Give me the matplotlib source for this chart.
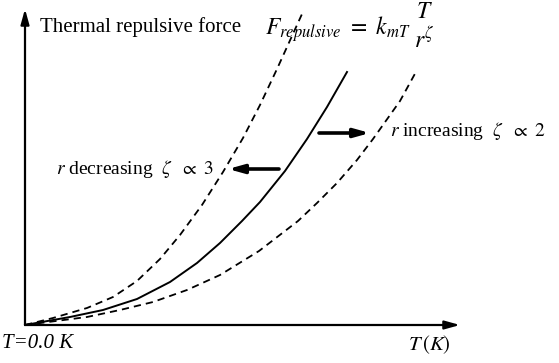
import numpy as np
import matplotlib
matplotlib.use("Agg")
import matplotlib.pyplot as plt

plt.rcParams['font.family'] = ['Liberation Serif', 'DejaVu Serif']
plt.rcParams['mathtext.fontset'] = 'stix'

# curvas esquematicas (T, F)
T_alto = [0, 28, 62, 88, 112, 135, 155, 177, 198, 218, 235, 252, 277]
F_alto = [0, 7, 17, 28, 44, 66, 90, 120, 153, 187, 220, 256, 311]

T_medio = [0, 45, 78, 112, 145, 172, 195, 217, 235, 260, 282, 302, 322]
F_medio = [0, 8, 15, 26, 43, 62, 82, 104, 123, 154, 186, 218, 253]

T_bajo = [0, 62, 95, 128, 162, 195, 234, 273, 292, 312, 332, 348, 375, 392]
F_bajo = [0, 8, 15, 23, 35, 50, 74, 104, 122, 142, 165, 186, 224, 255]

# flechas entre curvas: (inicio, fin)
flecha_izq = [(254, 156), (203, 156)]
flecha_der = [(294, 192), (345, 192)]

fig = plt.figure(figsize=(5.59, 3.63), dpi=100)
ax = fig.add_axes([0, 0, 1, 1])
ax.set_xlim(-25, 534)
ax.set_ylim(-38, 325)
ax.axis('off')

# ejes con flecha
ax.annotate('', xy=(0, 316), xytext=(0, 0),
            arrowprops=dict(arrowstyle='-|>,head_length=0.9,head_width=0.25',
                            color='black', lw=1.6, shrinkA=0, shrinkB=0))
ax.annotate('', xy=(435, 0), xytext=(0, 0),
            arrowprops=dict(arrowstyle='-|>,head_length=0.9,head_width=0.25',
                            color='black', lw=1.6, shrinkA=0, shrinkB=0))

ax.plot(T_alto, F_alto, color='black', lw=1.3, ls=(0, (4, 2.8)))
ax.plot(T_medio, F_medio, color='black', lw=1.4)
ax.plot(T_bajo, F_bajo, color='black', lw=1.3, ls=(0, (4, 2.8)))

for a, b in (flecha_izq, flecha_der):
    ax.annotate('', xy=b, xytext=a,
                arrowprops=dict(arrowstyle='-|>,head_length=0.9,head_width=0.25',
                                color='black', lw=2.6, shrinkA=0, shrinkB=0))

ax.text(15, 298, 'Thermal repulsive force', fontsize=15, va='center', ha='left')
ax.text(240, 296, r'$F_{repulsive}\ =\ k_{mT}$', fontsize=17, va='center', ha='left')
ax.text(399, 312, r'$T$', fontsize=17, va='center', ha='center')
ax.text(399, 286, r'$r^{\zeta}$', fontsize=17, va='center', ha='center')
ax.text(189, 156, r'$r$ decreasing  $\zeta\ \ \propto\ 3$', fontsize=14,
        va='center', ha='right')
ax.text(365, 194, r'$r$ increasing  $\zeta\ \ \propto\ 2$', fontsize=14,
        va='center', ha='left')
ax.text(-23, -18, 'T=0.0 K', fontsize=15, style='italic', va='center', ha='left')
ax.text(383, -20, r'$T\,(K)$', fontsize=15, va='center', ha='left')

fig.savefig('out.png', dpi=100)
